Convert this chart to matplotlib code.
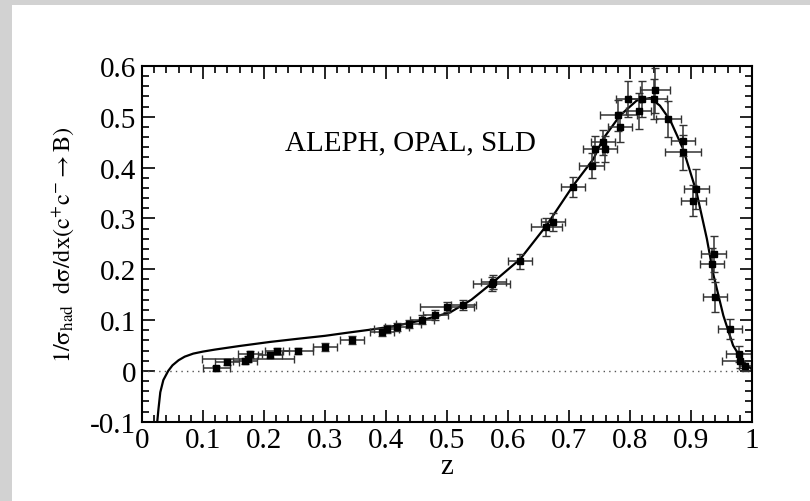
import matplotlib.pyplot as plt
from matplotlib.patches import Rectangle
from matplotlib.ticker import MultipleLocator

plt.rcParams["font.family"] = ["Liberation Serif", "DejaVu Serif"]
plt.rcParams["mathtext.fontset"] = "stix"

# theory curve
curve_z = [0.025, 0.027, 0.030, 0.035, 0.043, 0.050, 0.060, 0.070, 0.084, 0.100,
           0.120, 0.160, 0.210, 0.254, 0.300, 0.336, 0.380, 0.418, 0.460, 0.505,
           0.540, 0.576, 0.620, 0.663, 0.707, 0.740, 0.756, 0.784, 0.811, 0.833,
           0.849, 0.866, 0.887, 0.909, 0.926, 0.937, 0.953, 0.969, 0.986, 0.999]
curve_y = [-0.100, -0.075, -0.042, -0.018, 0.000, 0.011, 0.021, 0.028, 0.034, 0.038,
           0.042, 0.049, 0.057, 0.063, 0.069, 0.075, 0.082, 0.089, 0.100, 0.115,
           0.140, 0.175, 0.220, 0.286, 0.365, 0.417, 0.457, 0.503, 0.532, 0.537,
           0.522, 0.493, 0.437, 0.352, 0.260, 0.188, 0.109, 0.050, 0.017, 0.004]

# measurements (ALEPH, OPAL, SLD)
data_z = [0.122, 0.139, 0.169, 0.174, 0.177, 0.210, 0.221, 0.256, 0.300, 0.344,
          0.393, 0.401, 0.418, 0.437, 0.459, 0.481, 0.500, 0.527, 0.573, 0.576,
          0.620, 0.663, 0.674, 0.707, 0.737, 0.743, 0.756, 0.759, 0.781, 0.784,
          0.797, 0.814, 0.820, 0.840, 0.841, 0.863, 0.887, 0.887, 0.904, 0.909,
          0.934, 0.937, 0.939, 0.964, 0.978, 0.980, 0.989]
data_y = [0.005, 0.018, 0.020, 0.024, 0.033, 0.031, 0.040, 0.040, 0.047, 0.060,
          0.076, 0.083, 0.086, 0.093, 0.101, 0.110, 0.125, 0.130, 0.171, 0.175,
          0.216, 0.283, 0.293, 0.362, 0.404, 0.437, 0.450, 0.437, 0.503, 0.480,
          0.535, 0.512, 0.535, 0.535, 0.552, 0.496, 0.453, 0.430, 0.335, 0.358,
          0.211, 0.230, 0.145, 0.083, 0.033, 0.020, 0.010]
data_xerr = [0.022, 0.020, 0.020, 0.075, 0.020, 0.020, 0.020, 0.025, 0.020, 0.020,
             0.020, 0.020, 0.020, 0.020, 0.020, 0.020, 0.045, 0.020, 0.030, 0.020,
             0.020, 0.025, 0.020, 0.020, 0.020, 0.020, 0.020, 0.020, 0.030, 0.020,
             0.020, 0.020, 0.020, 0.020, 0.025, 0.020, 0.020, 0.030, 0.020, 0.020,
             0.020, 0.020, 0.020, 0.020, 0.020, 0.030, 0.010]
data_yerr = [0.005, 0.006, 0.006, 0.006, 0.007, 0.006, 0.006, 0.006, 0.007, 0.008,
             0.008, 0.008, 0.008, 0.008, 0.009, 0.010, 0.010, 0.010, 0.014, 0.014,
             0.015, 0.018, 0.018, 0.020, 0.025, 0.025, 0.025, 0.025, 0.030, 0.030,
             0.035, 0.035, 0.035, 0.040, 0.045, 0.035, 0.030, 0.035, 0.030, 0.040,
             0.030, 0.035, 0.030, 0.020, 0.015, 0.015, 0.010]

fig = plt.figure(figsize=(8.1, 5.02), dpi=100, facecolor="#d2d2d2")
fig.patches.append(Rectangle((12 / 810, 0), 1, 1 - 6 / 502, transform=fig.transFigure,
                             facecolor="white", edgecolor="none", zorder=-10))

ax = fig.add_axes([142 / 810, 1 - 422.7 / 502, 610 / 810, 355.7 / 502])
ax.set_zorder(5)

ax.axhline(0, color="#555555", linestyle=(0, (1, 3)), linewidth=1.0)
ax.plot(curve_z, curve_y, color="black", linewidth=1.6)
ax.errorbar(data_z, data_y, xerr=data_xerr, yerr=data_yerr, fmt="s", color="black",
            ecolor="#333333", markersize=4, elinewidth=1.1, capsize=3)

ax.set_xlim(0, 1)
ax.set_ylim(-0.1, 0.6)
ax.xaxis.set_major_locator(MultipleLocator(0.1))
ax.xaxis.set_minor_locator(MultipleLocator(0.02))
ax.yaxis.set_major_locator(MultipleLocator(0.1))
ax.yaxis.set_minor_locator(MultipleLocator(0.02))
ax.xaxis.set_major_formatter(lambda v, p: "%g" % round(v, 2))
ax.yaxis.set_major_formatter(lambda v, p: "%g" % round(v, 2))
ax.tick_params(which="both", direction="in", top=True, right=True, labelsize=21, width=1.2)
ax.tick_params(which="major", length=9, pad=4)
ax.tick_params(which="minor", length=5)
for s in ax.spines.values():
    s.set_linewidth(1.5)

ax.set_xlabel("z", fontsize=21, labelpad=0)
ax.set_ylabel(r"$\mathrm{1/\sigma_{had}\ \ d\sigma/dx(c^{+}c^{-}\rightarrow B)}$",
              fontsize=17.5, labelpad=10)
ax.text(0.44, 0.45, "ALEPH, OPAL, SLD", fontsize=21, ha="center", va="center")

plt.savefig("out.png", dpi=100, facecolor=fig.get_facecolor())
